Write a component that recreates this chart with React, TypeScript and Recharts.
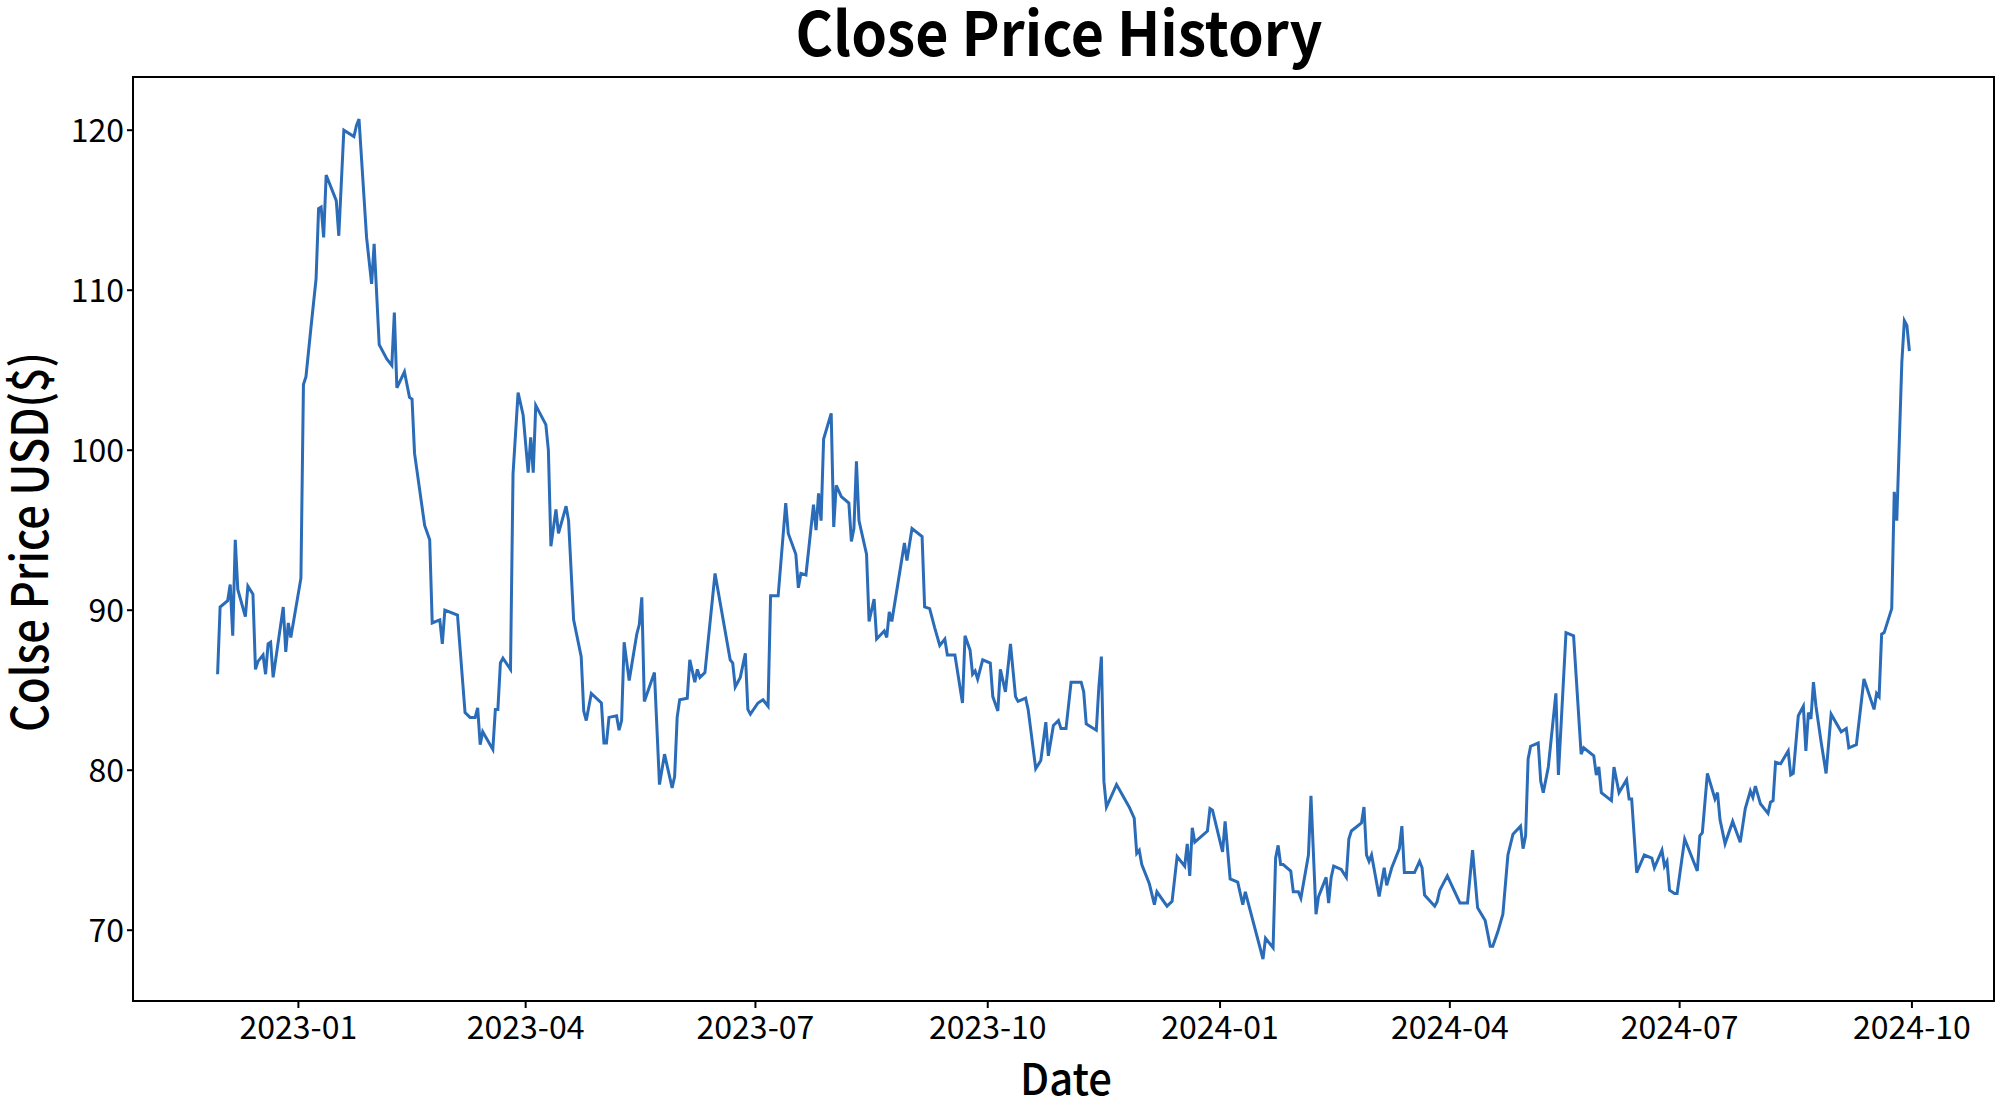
import { LineChart, Line, XAxis, YAxis, ReferenceArea } from "recharts";

// dates are days since 2023-01-01, closes in USD
const dec2022Days = [-32, -31, -28, -27, -26, -25, -24, -21, -20, -18, -17, -16, -14, -13, -12, -11, -10, -6, -5, -4, -3];
const dec2022Close = [86.0, 90.2, 90.6, 91.6, 88.4, 94.4, 91.3, 89.6, 91.5, 91.0, 86.3, 86.8, 87.2, 86.0, 87.9, 88.0, 85.8, 90.2, 87.4, 89.2, 88.3];

const q1y23Days = [1, 2, 3, 5, 7, 8, 9, 10, 11, 15, 16, 18, 22, 23, 24, 27, 29, 30, 32, 35, 37, 38, 39, 42, 44, 45, 46, 50, 52, 53, 56, 57, 58, 63, 66, 68, 70, 71, 72, 73, 77, 78, 79, 80, 81, 84, 85, 87, 89];
const q1y23Close = [92.0, 104.1, 104.6, 107.7, 110.7, 115.1, 115.2, 113.3, 117.2, 115.6, 113.4, 120.0, 119.6, 120.3, 120.7, 113.3, 110.4, 112.9, 106.6, 105.7, 105.3, 108.6, 103.9, 104.9, 103.3, 103.2, 99.8, 95.3, 94.4, 89.2, 89.4, 87.9, 90.0, 89.7, 83.6, 83.3, 83.3, 83.9, 81.6, 82.4, 81.3, 83.8, 83.8, 86.7, 87.0, 86.3, 98.5, 103.6, 102.2];

const q2y23Days = [91, 92, 93, 94, 98, 99, 100, 102, 103, 106, 107, 109, 112, 113, 114, 116, 120, 121, 122, 123, 126, 127, 128, 129, 131, 134, 135, 136, 137, 141, 143, 145, 148, 149, 150, 151, 154, 155, 157, 158, 159, 161, 165, 171, 172, 173, 175, 177, 178, 179];
const q2y23Close = [98.6, 100.8, 98.6, 102.8, 101.6, 100.0, 94.0, 96.3, 94.8, 96.5, 95.6, 89.4, 87.1, 83.7, 83.1, 84.8, 84.2, 81.7, 81.7, 83.3, 83.4, 82.5, 83.1, 88.0, 85.6, 88.5, 89.1, 90.8, 84.3, 86.1, 79.1, 81.0, 78.9, 79.6, 83.3, 84.4, 84.5, 86.9, 85.5, 86.3, 85.8, 86.1, 92.3, 86.9, 86.7, 85.2, 85.8, 87.3, 83.8, 83.5];

const q3y23Days = [182, 184, 186, 187, 190, 193, 194, 197, 198, 199, 201, 204, 205, 206, 207, 208, 211, 212, 213, 215, 218, 219, 220, 221, 222, 225, 226, 228, 229, 232, 233, 234, 235, 240, 241, 243, 247, 248, 250, 252, 254, 256, 257, 260, 263, 264, 266, 267, 268, 269, 271];
const q3y23Close = [84.2, 84.4, 84.0, 90.9, 90.9, 96.7, 94.8, 93.5, 91.4, 92.3, 92.2, 96.6, 95.0, 97.3, 95.6, 100.7, 102.3, 95.2, 97.8, 97.1, 96.7, 94.3, 95.1, 99.3, 95.6, 93.5, 89.3, 90.7, 88.2, 88.7, 88.3, 89.9, 89.3, 94.2, 93.1, 95.1, 94.6, 90.2, 90.1, 88.9, 87.8, 88.2, 87.2, 87.2, 84.2, 88.4, 87.5, 86.0, 86.2, 85.7, 86.9];

const q4y23Days = [274, 275, 277, 278, 280, 282, 284, 285, 288, 289, 292, 294, 296, 297, 299, 301, 302, 304, 306, 310, 311, 312, 313, 316, 317, 318, 319, 320, 324, 329, 331, 332, 333, 334, 337, 339, 340, 344, 346, 348, 351, 352, 353, 354, 355, 360, 361, 362];
const q4y23Close = [86.7, 84.6, 83.7, 86.3, 84.9, 87.9, 84.6, 84.3, 84.5, 83.8, 80.1, 80.6, 83.0, 80.9, 82.8, 83.1, 82.6, 82.6, 85.5, 85.5, 84.9, 82.9, 82.8, 82.5, 85.2, 87.1, 79.3, 77.7, 79.1, 77.7, 77.0, 74.8, 75.0, 74.1, 72.9, 71.6, 72.4, 71.5, 71.8, 74.6, 74.0, 75.4, 73.4, 76.4, 75.5, 76.2, 77.6, 77.5];

const q1y24Days = [366, 367, 369, 372, 374, 375, 382, 383, 386, 387, 388, 389, 390, 393, 394, 396, 397, 400, 401, 403, 404, 407, 408, 409, 410, 413, 415, 416, 417, 421, 422, 423, 424, 425, 428, 430, 431, 433, 436, 437, 438, 442, 444, 445, 446, 450, 451, 452, 455];
const q1y24Close = [74.9, 76.8, 73.2, 73.0, 71.6, 72.4, 68.2, 69.5, 68.9, 74.5, 75.3, 74.1, 74.1, 73.7, 72.4, 72.4, 72.0, 74.7, 78.4, 71.0, 72.1, 73.3, 71.7, 73.3, 74.0, 73.8, 73.3, 75.7, 76.2, 76.7, 77.7, 74.7, 74.3, 74.7, 72.1, 73.9, 72.8, 73.9, 75.1, 76.5, 73.6, 73.6, 74.3, 73.9, 72.2, 71.5, 71.8, 72.5, 73.4];

const q2y24Days = [460, 463, 465, 467, 470, 472, 473, 475, 477, 479, 481, 484, 485, 486, 487, 488, 491, 492, 493, 495, 498, 499, 502, 505, 508, 509, 513, 514, 515, 516, 520, 521, 523, 526, 527, 528, 530, 533, 536, 537, 540, 541, 542, 543, 545, 546];
const q2y24Close = [71.7, 71.7, 75.0, 71.4, 70.6, 69.0, 69.0, 69.9, 71.0, 74.7, 76.0, 76.5, 75.1, 75.9, 80.7, 81.5, 81.7, 79.3, 78.6, 80.2, 84.8, 79.7, 88.6, 88.4, 81.0, 81.4, 80.9, 79.7, 80.2, 78.6, 78.1, 80.2, 78.6, 79.4, 78.2, 78.2, 73.6, 74.7, 74.5, 73.9, 75.0, 74.0, 74.3, 72.5, 72.3, 72.3];

const q3y24Days = [549, 551, 554, 555, 556, 558, 561, 562, 563, 565, 568, 571, 573, 575, 576, 577, 579, 582, 583, 584, 585, 587, 590, 591, 592, 594, 596, 597, 598, 599, 600, 601, 603, 605, 607, 611, 613, 614, 617, 620, 624, 625, 626, 627, 628, 631, 632, 633, 635, 636, 637, 638];
const q3y24Close = [75.7, 74.9, 73.7, 75.9, 76.1, 79.8, 78.2, 78.6, 76.9, 75.4, 76.8, 75.5, 77.6, 78.7, 78.3, 79.0, 77.9, 77.3, 78.0, 78.1, 80.5, 80.4, 81.2, 79.7, 79.8, 83.4, 84.0, 81.2, 83.6, 83.2, 85.5, 84.0, 81.8, 79.8, 83.5, 82.4, 82.6, 81.4, 81.6, 85.7, 83.8, 84.8, 84.6, 88.5, 88.6, 90.1, 97.4, 95.6, 105.5, 108.1, 107.8, 106.2];

const tickDays = [0, 90, 181, 273, 365, 456, 547, 639];
const tickLabels = ["2023-01", "2023-04", "2023-07", "2023-10", "2024-01", "2024-04", "2024-07", "2024-10"];
const priceTicks = [70, 80, 90, 100, 110, 120];

const segments: [number[], number[]][] = [
  [dec2022Days, dec2022Close],
  [q1y23Days, q1y23Close],
  [q2y23Days, q2y23Close],
  [q3y23Days, q3y23Close],
  [q4y23Days, q4y23Close],
  [q1y24Days, q1y24Close],
  [q2y24Days, q2y24Close],
  [q3y24Days, q3y24Close],
];

const rows = segments.flatMap(([days, closes]) => days.map((day, i) => ({ day, close: closes[i] })));

// matplotlib-style 5% padding around the data
const pad = (lo: number, hi: number): [number, number] => [lo - (hi - lo) * 0.05, hi + (hi - lo) * 0.05];
const xDomain = pad(rows[0].day, rows[rows.length - 1].day);
const yDomain = pad(Math.min(...rows.map((r) => r.close)), Math.max(...rows.map((r) => r.close)));

const FONT = '"Noto Sans CJK SC", "Noto Sans", sans-serif';
const axisStyle = { stroke: "#000", strokeWidth: 2 };
const tickStyle = { fill: "#000", fontSize: 32, fontFamily: FONT };

export default function App() {
  return (
    <div style={{ position: "absolute", left: 0, top: 0, width: 2000, height: 1106, background: "#fff" }}>
      <LineChart width={2000} height={1106} data={rows} margin={{ top: 77, right: 6, bottom: 0, left: 0 }}>
        <XAxis
          dataKey="day"
          type="number"
          domain={xDomain}
          ticks={tickDays}
          tickFormatter={(v) => tickLabels[tickDays.indexOf(v)] ?? ""}
          height={105}
          axisLine={axisStyle}
          tickLine={axisStyle}
          tickSize={7}
          tickMargin={8}
          tick={tickStyle}
          allowDataOverflow
        />
        <YAxis
          type="number"
          domain={yDomain}
          ticks={priceTicks}
          width={133}
          axisLine={axisStyle}
          tickLine={axisStyle}
          tickSize={6}
          tickMargin={3}
          tick={tickStyle}
          allowDataOverflow
        />
        <ReferenceArea
          x1={xDomain[0]}
          x2={xDomain[1]}
          y1={yDomain[0]}
          y2={yDomain[1]}
          fill="none"
          stroke="#000"
          strokeWidth={2}
        />
        <Line type="linear" dataKey="close" stroke="#2b6cb8" strokeWidth={3} dot={false} isAnimationActive={false} />
      </LineChart>
      <svg width={2000} height={1106} style={{ position: "absolute", left: 0, top: 0, pointerEvents: "none" }}>
        <text
          x={1059}
          y={56}
          textAnchor="middle"
          fontFamily={FONT}
          fontSize={61}
          fontWeight={700}
          textLength={527}
          lengthAdjust="spacingAndGlyphs"
          fill="#000"
        >
          Close Price History
        </text>
        <text
          x={1066}
          y={1095}
          textAnchor="middle"
          fontFamily={FONT}
          fontSize={44}
          fontWeight={500}
          textLength={92}
          lengthAdjust="spacingAndGlyphs"
          fill="#000"
        >
          Date
        </text>
        <text
          x={48}
          y={542}
          transform="rotate(-90 48 542)"
          textAnchor="middle"
          fontFamily={FONT}
          fontSize={50}
          fontWeight={500}
          textLength={380}
          lengthAdjust="spacingAndGlyphs"
          fill="#000"
        >
          Colse Price USD($)
        </text>
      </svg>
    </div>
  );
}
